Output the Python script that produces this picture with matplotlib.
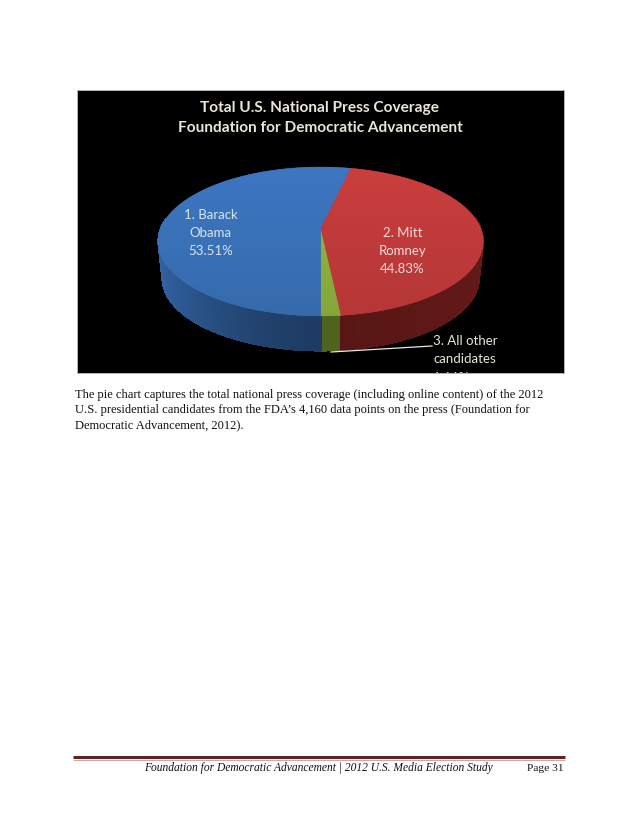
import numpy as np
import matplotlib
matplotlib.use('Agg')
import matplotlib.pyplot as plt
from matplotlib.patches import Polygon, Rectangle

# values
shares = [1.66, 44.83, 53.51]
names = ['3. All other\ncandidates', '2. Mitt\nRomney', '1. Barack\nObama']
top_colors = ['#8fb23e', '#c23b3b', '#3a72b9']
side_colors = ['#4f6320', '#561615', '#2a5389']

title_lines = ['Total U.S. National Press Coverage', 'Foundation for Democratic Advancement']
body_lines = ['The pie chart captures the total national press coverage (including online content) of the 2012',
              'U.S. presidential candidates from the FDA\u2019s 4,160 data points on the press (Foundation for',
              'Democratic Advancement, 2012).']
footer = 'Foundation for Democratic Advancement | 2012 U.S. Media Election Study'
page = 'Page 31'

# pie projection, in page pixels
cx, cy = 320.7, 228
width, height, k = 159.8, 72, 0.181
depth = 37


def project(theta, drop=0, scale=1.0):
    # theta is measured counter clockwise from the front of the pie
    u, v = np.sin(theta), -np.cos(theta)
    x = cx + scale * width * u / (1 + k * v)
    y = cy - scale * height * v / (1 + k * v) + drop
    return x, y


fig = plt.figure(figsize=(6.38, 8.26), dpi=100, facecolor='white')
ax = fig.add_axes([0, 0, 1, 1])
ax.set_xlim(0, 638)
ax.set_ylim(826, 0)
ax.axis('off')

frame = Rectangle((77, 90), 487, 283, facecolor='black', edgecolor='#bbbbbb', linewidth=0.6, zorder=1)
ax.add_patch(frame)

edges = np.cumsum([0] + shares) / 100 * 2 * np.pi

# side wall, only the front half of the rim shows
for i in range(len(shares)):
    a, b = edges[i], edges[i + 1]
    steps = np.linspace(a, b, max(2, int((b - a) * 60)))
    for t0, t1 in zip(steps[:-1], steps[1:]):
        t_mid = (t0 + t1) / 2
        if np.cos(t_mid) < -0.12:
            continue
        x0, y0 = project(t0)
        x1, y1 = project(t1)
        x2, y2 = project(t1, depth, 0.975)
        x3, y3 = project(t0, depth, 0.975)
        # wall is darkest near the front, lighter towards the left end
        if t_mid > np.pi:
            shade = 0.72 + 0.5 * abs(np.sin(t_mid)) ** 1.5
        else:
            shade = 1.0 + 0.15 * abs(np.sin(t_mid))
        col = np.clip(np.array(matplotlib.colors.to_rgb(side_colors[i])) * shade, 0, 1)
        ax.add_patch(Polygon([(x0, y0), (x1, y1), (x2, y2), (x3, y3)], closed=True, facecolor=col,
                             edgecolor=col, linewidth=0.5, antialiased=False, zorder=2))

# top face
for i in range(len(shares)):
    th = np.linspace(edges[i], edges[i + 1], 200)
    xs, ys = project(th)
    pts = np.column_stack([np.r_[cx, xs], np.r_[cy, ys]])
    rgb = np.array(matplotlib.colors.to_rgb(top_colors[i]))
    wedge = Polygon(pts, closed=True, facecolor=top_colors[i], edgecolor=top_colors[i], linewidth=0.3, zorder=3)
    ax.add_patch(wedge)
    grad = np.linspace(1.05, 0.93, 64)[:, None, None] * rgb[None, None, :]
    im = ax.imshow(np.clip(grad, 0, 1), extent=(150, 490, 320, 160), aspect='auto', zorder=3.1)
    im.set_clip_path(wedge)
ax.set_xlim(0, 638)
ax.set_ylim(826, 0)

# chart texts
cream = '#e9e5d8'
for y, s in zip([108, 128], title_lines):
    ax.text(320, y, s, color=cream, family='Lato', weight='bold', fontsize=11.05, ha='center', va='center', zorder=5)
ax.text(210.5, 233, names[2] + '\n53.51%', color='#d9e4f2', family='Lato', fontsize=9.5,
        ha='center', va='center', linespacing=1.63, zorder=5)
ax.text(402.5, 251, names[1] + '\n44.83%', color='#f4dcdc', family='Lato', fontsize=9.5,
        ha='center', va='center', linespacing=1.63, zorder=5)
t3 = ax.text(433, 335, names[0] + '\n1.66%', color=cream, family='Lato', fontsize=9.5,
             ha='left', va='top', linespacing=1.63, zorder=5)
# the third line is cut off by the bottom of the black frame
t3.set_clip_path(frame)
t3.set_clip_on(True)
ax.plot([331, 432], [352, 346], color='#e8e8e8', linewidth=0.9, zorder=5)

# page text
for y, s in zip([398, 413, 428], body_lines):
    ax.text(75, y, s, family='Liberation Serif', fontsize=9.0, color='#111111', ha='left', va='baseline')

# footer rule
ax.plot([73, 565], [756.8, 756.8], color='#5f2226', linewidth=2.2, solid_capstyle='butt')
ax.plot([73, 565], [759.6, 759.6], color='#c09a98', linewidth=0.6, solid_capstyle='butt')
ax.text(144, 771, footer, family='Liberation Serif', style='italic', fontsize=8.3, color='#111111', va='baseline')
ax.text(527, 771, page, family='Liberation Serif', fontsize=8.2, color='#111111', va='baseline')

fig.savefig('out.png', dpi=100)
